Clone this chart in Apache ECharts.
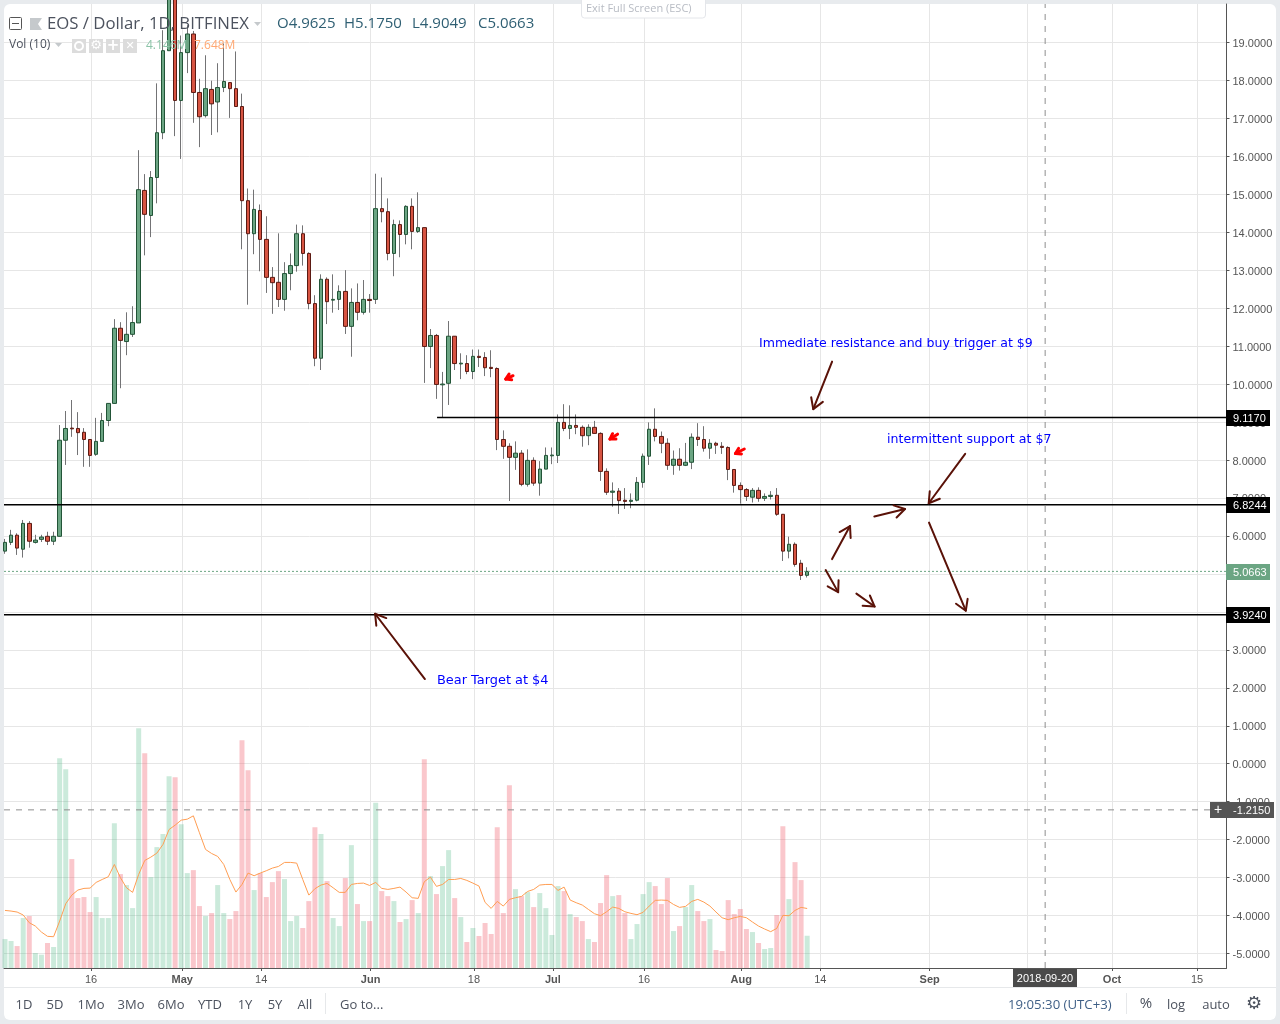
<!DOCTYPE html>
<html>
<head>
<meta charset="utf-8">
<title>EOS / Dollar, 1D, BITFINEX</title>
<script src="https://cdn.jsdelivr.net/npm/echarts@6/dist/echarts.min.js"></script>
<style>
html,body{margin:0;padding:0;background:#e8ebee;width:1280px;height:1024px;overflow:hidden}
#panel{position:absolute;left:4px;top:4px;width:1272px;height:1016px;background:#fff;border-radius:6px}
#chart{position:absolute;left:0;top:0;width:1280px;height:1024px}
</style>
</head>
<body>
<div id="panel"></div>
<div id="chart"></div>
<script>
// Daily candles, first candle = 2 Apr 2018 (x value = days since then)
const opens = [5.60,5.83,6.02,5.65,6.33,5.83,5.91,5.99,5.86,5.99,
8.52,8.84,8.83,8.73,8.54,8.15,8.49,9.04,9.49,11.47,
11.12,11.31,11.61,15.10,14.44,15.44,16.62,18.78,20.50,17.47,
18.73,19.22,17.68,17.07,17.76,17.43,17.81,17.94,17.78,17.31,
14.83,13.96,14.57,13.81,12.81,12.68,12.23,12.91,13.12,13.96,
13.44,12.12,10.68,12.76,12.21,12.23,12.44,11.52,12.15,11.89,
12.23,12.23,14.62,14.54,13.44,14.20,13.94,14.68,14.02,14.12,
10.99,11.28,9.98,10.02,11.26,10.53,10.54,10.33,10.73,10.70,
10.44,10.41,8.54,8.36,8.07,8.18,7.36,7.99,7.39,7.76,
8.11,8.12,8.99,8.83,8.91,8.86,8.64,8.86,8.70,7.70,
7.15,7.18,6.94,6.91,6.94,7.41,8.10,8.81,8.62,8.44,
7.86,8.02,7.86,7.94,8.60,8.54,8.31,8.44,8.36,8.33,
7.75,7.33,7.22,7.02,7.20,6.99,7.04,7.07,6.57,5.60,
5.78,5.28,4.9625];
const closes = [5.83,6.02,5.68,6.33,5.86,5.89,5.97,5.86,5.99,8.52,
8.83,8.82,8.72,8.54,8.12,8.49,9.04,9.49,11.47,11.15,
11.31,11.62,15.12,14.47,15.44,16.62,18.78,20.60,17.47,18.73,
19.22,17.68,17.04,17.78,17.38,17.81,17.97,17.78,17.31,14.83,
13.96,14.60,13.81,12.81,12.67,12.23,12.91,13.12,13.96,13.44,
12.12,10.68,12.76,12.17,12.23,12.44,11.52,12.15,11.89,12.23,
12.20,14.62,14.54,13.44,14.20,13.94,14.68,14.02,14.12,10.99,
11.28,9.99,10.00,11.26,10.54,10.55,10.33,10.73,10.70,10.43,
10.41,8.54,8.36,8.07,8.18,7.36,7.99,7.39,7.76,8.12,
8.13,8.99,8.83,8.91,8.86,8.64,8.86,8.70,7.70,7.15,
7.18,6.93,6.91,6.94,7.41,8.10,8.81,8.62,8.44,7.86,
8.02,7.86,7.94,8.60,8.54,8.31,8.44,8.39,8.33,7.75,
7.33,7.22,7.04,7.20,6.99,7.04,7.07,6.57,5.60,5.78,
5.25,4.96,5.0663];
const highs = [5.92,6.16,6.07,6.42,6.39,6.03,6.03,6.11,6.11,8.92,
9.29,9.58,9.26,8.84,8.54,9.11,9.24,9.49,11.71,11.63,
11.89,12.05,16.16,15.53,15.61,17.92,19.32,22.00,21.50,19.18,
19.45,19.30,18.04,18.66,17.99,18.45,18.97,17.94,18.76,17.65,
15.15,15.12,14.73,14.42,13.08,13.97,13.21,13.44,14.20,14.18,
13.47,12.34,12.89,12.81,12.89,12.60,13.00,12.52,12.65,12.74,
12.37,15.54,15.44,14.89,14.33,14.31,14.71,14.89,15.05,14.12,
11.45,11.32,10.32,11.66,11.26,10.81,10.76,10.91,10.91,10.84,
10.89,10.44,8.78,8.44,8.49,8.26,8.28,8.07,7.97,8.33,
8.33,9.20,9.47,9.44,9.20,8.91,8.94,9.03,8.73,7.78,
7.41,7.26,7.26,7.12,7.55,8.17,8.99,9.36,8.75,8.57,
8.25,8.31,8.45,8.70,8.97,8.89,8.55,8.48,8.47,8.36,
7.75,7.41,7.26,7.26,7.28,7.12,7.18,7.26,6.57,5.98,
5.83,5.37,5.1750];
const lows = [5.53,5.76,5.50,5.43,5.69,5.80,5.84,5.76,5.76,5.99,
7.87,8.61,8.13,7.82,7.82,8.11,8.49,8.89,9.49,9.89,
10.76,11.24,11.61,13.39,13.87,14.76,16.45,18.78,16.53,15.93,
18.19,16.88,16.24,17.02,16.56,16.63,17.69,17.01,17.31,13.55,
12.09,13.42,12.97,12.40,11.85,12.03,11.93,12.47,12.96,13.12,
11.97,10.47,10.37,11.58,11.88,11.95,11.32,10.72,11.68,11.83,
11.88,12.11,14.26,13.26,12.84,13.34,13.68,13.55,13.98,10.03,
10.42,9.61,9.12,9.45,10.37,10.13,10.26,10.13,10.45,10.21,
10.18,8.26,8.03,6.92,7.74,7.31,7.30,7.32,7.06,7.76,
7.89,7.92,8.76,8.55,8.68,8.35,8.39,8.70,7.45,7.08,
6.77,6.58,6.71,6.73,6.91,7.27,7.87,8.49,8.18,7.74,
7.61,7.72,7.84,7.76,8.37,8.22,8.03,8.16,8.16,7.47,
7.14,6.85,6.92,6.88,6.90,6.92,6.96,6.53,5.34,5.41,
5.19,4.84,4.9049];
// Volume, millions
const volumes = [3.72,3.47,2.82,6.42,6.68,1.93,1.71,3.21,2.70,26.96,
25.55,14.00,8.99,9.12,7.19,9.12,6.42,6.42,18.62,12.07,
10.66,7.70,30.82,27.61,11.68,15.54,17.21,24.65,24.52,18.49,
12.20,12.58,7.96,6.68,7.06,10.66,7.06,6.29,7.32,29.28,
25.42,10.02,12.20,9.12,11.04,12.45,11.43,6.03,6.68,5.14,
8.60,18.10,17.21,11.17,6.42,5.39,11.56,15.79,8.22,6.03,
6.03,21.23,9.89,9.24,8.60,5.91,6.29,8.73,7.06,26.84,
11.81,9.50,13.10,15.15,8.99,6.55,3.34,5.14,4.11,5.78,
4.37,18.10,7.06,23.50,10.14,9.24,9.76,7.83,9.63,7.70,
4.24,10.53,9.89,6.93,6.55,6.03,3.72,3.34,8.35,11.94,
9.24,9.37,7.06,3.72,5.65,9.50,11.04,10.53,8.22,11.56,
4.75,5.39,7.83,10.66,7.32,6.03,6.29,2.31,2.18,8.73,
6.93,7.58,5.01,4.62,3.21,2.44,2.57,6.81,18.23,8.86,
13.61,11.30,4.146];
// Vol (10) moving average, millions
const volumeMA = [7.40,7.32,7.19,6.81,5.82,5.39,4.62,4.07,4.02,6.03,
8.26,9.37,10.02,10.23,10.27,11.00,11.38,11.73,13.31,11.60,
10.31,9.72,12.03,13.82,14.25,14.77,15.88,17.80,18.36,19.00,
19.13,19.56,17.38,15.24,14.72,14.34,13.31,11.38,9.76,10.74,
12.20,11.86,12.20,12.50,12.84,13.05,13.57,13.57,13.48,11.38,
9.37,10.19,10.66,10.87,10.31,9.72,9.72,10.74,10.87,10.91,
10.61,11.00,10.23,10.10,10.23,10.40,9.76,9.03,8.95,11.09,
11.68,10.49,10.74,11.38,11.38,11.51,11.26,10.91,10.53,8.43,
7.66,8.56,7.96,8.82,9.03,9.20,9.84,10.10,10.66,10.74,
10.74,9.97,10.40,8.73,8.39,8.09,7.53,6.98,6.72,7.23,
7.83,7.66,7.23,7.02,6.85,7.15,7.96,8.69,8.73,8.69,
8.17,7.79,7.92,8.56,8.82,8.47,7.96,7.19,6.46,6.21,
6.46,6.63,6.46,5.91,5.39,5.01,4.67,5.09,6.76,6.72,
7.40,7.79,7.648];

const priceTicks = [19,18,17,16,15,14,13,12,11,10,9,8,7,6,5,4,3,2,1,0,-1,-2,-3,-4,-5];
// Day ticks sit a fraction of a day right of the candle centres, as in the picture
const timeTickDays = [14.16,29.16,42.16,60.16,77.16,90.16,105.16,121.16,134.16,152.16,168.16,182.16,196.16];
const timeTickLabels = ['16','May','14','Jun','18','Jul','16','Aug','14','Sep','','Oct','15'];
const boldTimeLabels = ['May','Jun','Jul','Aug','Sep','Oct'];

// Horizontal levels drawn on the chart: price, first day
const levelPrices = [9.117,6.8244,3.924];
const levelStartDays = [71.1,-0.16,-0.16];
const lastPrice = 5.0663;
const crosshairPrice = -1.215;
const crosshairDay = 171.16;
const crosshairDate = '2018-09-20';

// Hand-drawn arrows in data space: start day/price, end day/price
const arrowStartDay = [136.1,158.0,152.05,136.1,143.05,135.05,140.1,69.1];
const arrowStartPrice = [10.59,8.16,6.35,5.39,6.51,5.10,4.48,2.23];
const arrowEndDay = [133.0,152.0,158.1,139.05,148.1,137.1,143.1,60.9];
const arrowEndPrice = [9.34,6.86,4.03,6.26,6.71,4.52,4.14,3.95];
const markerStartDay = [83.6,100.8,121.65];
const markerStartPrice = [10.22,8.68,8.29];
const markerEndDay = [82.4,99.55,120.2];
const markerEndPrice = [10.13,8.55,8.17];

const notes = [
  ['Immediate resistance and buy trigger at $9', 759, 343, 12.55],
  ['intermittent support at $7', 887, 439, 12.6],
  ['Bear Target at $4', 437, 680, 12.9]
];

const AXIS_FONT = '"Liberation Sans", Arial, sans-serif';
const UI_FONT = '"Open Sans", sans-serif';
const X_MIN = -0.16, X_MAX = 201, Y_MIN = -5.38, Y_MAX = 20.01;
const UP = '#6ba583', DOWN = '#d75442';
const days = opens.map((_, i) => i);

function arrowShape(api, x1, y1, x2, y2, head, width, color) {
  const a = api.coord([x1, y1]), b = api.coord([x2, y2]);
  const ang = Math.atan2(b[1] - a[1], b[0] - a[0]);
  const spread = 0.55;
  const p1 = [b[0] - head * Math.cos(ang - spread), b[1] - head * Math.sin(ang - spread)];
  const p2 = [b[0] - head * Math.cos(ang + spread), b[1] - head * Math.sin(ang + spread)];
  const st = {stroke: color, lineWidth: width, fill: null, lineCap: 'round', lineJoin: 'round'};
  return {type: 'group', children: [
    {type: 'polyline', shape: {points: [a, b]}, style: st},
    {type: 'polyline', shape: {points: [p1, b, p2]}, style: st}
  ]};
}
function lineShape(a, b, color, width, dash) {
  return {type: 'line', shape: {x1: a[0], y1: a[1], x2: b[0], y2: b[1]},
    style: {stroke: color, lineWidth: width, lineDash: dash || null}};
}
function tagShape(api, price, bg, w) {
  const p = api.coord([X_MAX, price]);
  const y = Math.round(p[1] + 0.5);
  return {type: 'group', children: [
    {type: 'rect', shape: {x: 1226, y: y - 8, width: w, height: 16}, style: {fill: bg}},
    {type: 'text', x: 1233, y: y + 0.5, style: {text: price.toFixed(4), fill: '#fff',
      font: '11px ' + AXIS_FONT, textVerticalAlign: 'middle'}}
  ]};
}

const levelItems = levelPrices.map((_, i) => i);
const tagItems = levelPrices.map((p) => [p, '#000000', 44]).concat([[lastPrice, UP, 44], [crosshairPrice, '#555555', 48]]);

function txt(x, y, s, font, fill, align) {
  return {type: 'text', x: x, y: y + 1, z: 100, silent: true,
    style: {text: s, font: font, fill: fill, align: align || 'left', verticalAlign: 'middle'}};
}
const INK = '#4c525e';
const TB = '13px ' + UI_FONT;
const chrome = [
  {type: 'rect', z: 100, shape: {x: 9.5, y: 17.5, width: 12, height: 12, r: 1}, style: {fill: '#fff', stroke: '#555', lineWidth: 1}},
  {type: 'line', z: 100, shape: {x1: 12, y1: 23.5, x2: 19, y2: 23.5}, style: {stroke: '#555', lineWidth: 1}},
  {type: 'polygon', z: 100, shape: {points: [[30, 18], [42, 18], [38, 24], [42, 30], [30, 30]]}, style: {fill: '#c5c9cc'}},
  txt(47, 23, 'EOS / Dollar, 1D, BITFINEX', '16.75px ' + UI_FONT, INK),
  {type: 'polygon', z: 100, shape: {points: [[254, 22], [261, 22], [257.5, 26]]}, style: {fill: '#c5c9cc'}},
  txt(277, 23, 'O4.9625', '15px ' + UI_FONT, '#2f5f73'),
  txt(344, 23, 'H5.1750', '15px ' + UI_FONT, '#2f5f73'),
  txt(412, 23, 'L4.9049', '15px ' + UI_FONT, '#2f5f73'),
  txt(478, 23, 'C5.0663', '15px ' + UI_FONT, '#2f5f73'),
  {type: 'rect', z: 100, shape: {x: 581.5, y: -3, width: 124, height: 21, r: 3}, style: {fill: '#fff', stroke: '#e4e6ea', lineWidth: 1}},
  txt(586, 8, 'Exit Full Screen (ESC)', '11px ' + UI_FONT, '#b8bcc4'),
  txt(9, 44, 'Vol (10)', '12px ' + UI_FONT, INK),
  {type: 'polygon', z: 100, shape: {points: [[55, 43], [62, 43], [58.5, 47]]}, style: {fill: '#c5c9cc'}},
  {type: 'rect', z: 100, shape: {x: 72, y: 39, width: 14, height: 14}, style: {fill: '#dcdcdc'}},
  {type: 'rect', z: 100, shape: {x: 89, y: 39, width: 14, height: 14}, style: {fill: '#dcdcdc'}},
  {type: 'rect', z: 100, shape: {x: 106, y: 39, width: 14, height: 14}, style: {fill: '#dcdcdc'}},
  {type: 'rect', z: 100, shape: {x: 123, y: 39, width: 14, height: 14}, style: {fill: '#dcdcdc'}},
  {type: 'circle', z: 101, shape: {cx: 79, cy: 46, r: 4}, style: {fill: 'none', stroke: '#fff', lineWidth: 2}},
  txt(96, 45, '\u2699', '13px "DejaVu Sans"', '#fff', 'center'),
  txt(113, 45, '+', 'bold 15px "DejaVu Sans"', '#fff', 'center'),
  txt(130, 45, '\u2715', 'bold 11px "DejaVu Sans"', '#fff', 'center'),
  txt(146, 45, '4.146M', '12px ' + UI_FONT, '#8cc4a8'),
  txt(194, 45, '7.648M', '12px ' + UI_FONT, '#ffa873'),
  {type: 'rect', z: 100, shape: {x: 1210, y: 802, width: 16, height: 16}, style: {fill: '#555555'}},
  txt(1218, 809, '+', '14px ' + AXIS_FONT, '#fff', 'center'),
  {type: 'rect', z: 100, shape: {x: 1013, y: 969, width: 64, height: 18}, style: {fill: '#4a4a4a'}},
  txt(1045, 977.5, crosshairDate, '11px ' + AXIS_FONT, '#fff', 'center'),
  {type: 'line', z: 1, shape: {x1: 4, y1: 987.5, x2: 1276, y2: 987.5}, style: {stroke: '#e6e8ea', lineWidth: 1}},
  txt(24, 1004, '1D', TB, INK, 'center'),
  txt(55, 1004, '5D', TB, INK, 'center'),
  txt(91, 1004, '1Mo', TB, INK, 'center'),
  txt(131, 1004, '3Mo', TB, INK, 'center'),
  txt(171, 1004, '6Mo', TB, INK, 'center'),
  txt(210, 1004, 'YTD', TB, INK, 'center'),
  txt(245, 1004, '1Y', TB, INK, 'center'),
  txt(275, 1004, '5Y', TB, INK, 'center'),
  txt(305, 1004, 'All', TB, INK, 'center'),
  {type: 'line', z: 100, shape: {x1: 325.5, y1: 993, x2: 325.5, y2: 1014}, style: {stroke: '#e6e8ea', lineWidth: 1}},
  txt(340, 1004, 'Go to...', TB, INK),
  txt(1008, 1004, '19:05:30 (UTC+3)', '13.2px ' + UI_FONT, '#3f5f86'),
  {type: 'line', z: 100, shape: {x1: 1126.5, y1: 993, x2: 1126.5, y2: 1014}, style: {stroke: '#e6e8ea', lineWidth: 1}},
  txt(1146, 1003, '%', '15px ' + UI_FONT, INK, 'center'),
  txt(1176, 1004, 'log', TB, INK, 'center'),
  txt(1216, 1004, 'auto', TB, INK, 'center'),
  txt(1254, 1003, '\u2699', '18px "DejaVu Sans"', INK, 'center')
].concat(notes.map((n) => txt(n[1], n[2], n[0], n[3] + 'px "DejaVu Sans"', '#0000ff')));

const chart = echarts.init(document.getElementById('chart'), null, {renderer: 'canvas'});
chart.setOption({
  animation: false,
  grid: {left: 4, right: 53.5, top: 4, bottom: 56, containLabel: false},
  xAxis: {
    type: 'value', min: X_MIN, max: X_MAX,
    axisLine: {onZero: false, lineStyle: {color: '#555555', width: 1}},
    axisTick: {show: true, length: 3, lineStyle: {color: '#555555'}, customValues: timeTickDays},
    splitLine: {show: true, lineStyle: {color: '#e6e6e6', width: 1}},
    axisLabel: {
      customValues: timeTickDays, margin: 6, color: '#555555', fontSize: 11, fontFamily: 'Liberation Sans',
      formatter: function (v) {
        const s = timeTickLabels[timeTickDays.indexOf(v)] || '';
        return boldTimeLabels.indexOf(s) >= 0 ? '{b|' + s + '}' : s;
      },
      rich: {b: {fontWeight: 'bold', color: '#555555', fontSize: 11, fontFamily: 'Liberation Sans'}}
    }
  },
  yAxis: [{
    type: 'value', min: Y_MIN, max: Y_MAX, position: 'right',
    axisLine: {show: true, onZero: false, lineStyle: {color: '#555555', width: 1}},
    axisTick: {show: true, length: 3, lineStyle: {color: '#555555'}, customValues: priceTicks},
    splitLine: {show: true, lineStyle: {color: '#e6e6e6', width: 1}},
    axisLabel: {customValues: priceTicks, margin: 6, color: '#555555', fontSize: 11, fontFamily: 'Liberation Sans',
      formatter: (v) => '{p|' + v.toFixed(4) + '}',
      rich: {p: {color: '#555555', fontSize: 11, fontFamily: 'Liberation Sans', padding: [3, 0, 0, 0]}}}
  }, {
    type: 'value', min: 0, max: 123.9, show: false, splitLine: {show: false}
  }],
  series: [
    {
      name: 'Volume', type: 'bar', yAxisIndex: 1, barWidth: 5, z: 1, silent: true,
      data: days.map((d, i) => ({value: [d, volumes[i]],
        itemStyle: {color: closes[i] >= opens[i] ? 'rgba(83,185,135,0.30)' : 'rgba(242,100,115,0.36)'}}))
    },
    {
      name: 'Vol MA 10', type: 'line', yAxisIndex: 1, z: 3, silent: true, symbol: 'none',
      lineStyle: {color: '#ff9d52', width: 1},
      data: days.map((d, i) => [d, volumeMA[i]])
    },
    {
      name: 'Wicks', type: 'candlestick', barWidth: 1, z: 4, silent: true,
      itemStyle: {color: '#737375', color0: '#737375', borderColor: '#737375', borderColor0: '#737375', borderWidth: 1},
      data: days.map((d, i) => [d, opens[i], closes[i], lows[i], highs[i]])
    },
    {
      name: 'EOS / Dollar', type: 'candlestick', barWidth: 4, z: 5, silent: true,
      itemStyle: {color: UP, color0: DOWN, borderColor: '#225437', borderColor0: '#5b1a13', borderWidth: 1},
      data: days.map((d, i) => [d, opens[i], closes[i], Math.min(opens[i], closes[i]), Math.max(opens[i], closes[i])])
    },
    {
      name: 'Guides', type: 'custom', z: 6, silent: true, clip: false,
      data: [0],
      renderItem: function (params, api) {
        return {type: 'group', children: [
          lineShape(api.coord([X_MIN, lastPrice]), api.coord([X_MAX, lastPrice]), '#6ba583', 1, [2, 2]),
          lineShape(api.coord([X_MIN, crosshairPrice]), api.coord([X_MAX, crosshairPrice]), '#8e8e8e', 1, [6, 6]),
          lineShape(api.coord([crosshairDay, Y_MIN]), api.coord([crosshairDay, Y_MAX]), '#8e8e8e', 1, [6, 6])
        ]};
      }
    },
    {
      name: 'Levels', type: 'custom', z: 7, silent: true, clip: false,
      data: levelItems,
      renderItem: function (params, api) {
        const i = params.dataIndex;
        return lineShape(api.coord([levelStartDays[i], levelPrices[i]]), api.coord([X_MAX, levelPrices[i]]), '#000000', 1.5);
      }
    },
    {
      name: 'Arrows', type: 'custom', z: 8, silent: true, clip: false,
      data: arrowStartDay.map((_, i) => i),
      renderItem: function (params, api) {
        const i = params.dataIndex;
        return arrowShape(api, arrowStartDay[i], arrowStartPrice[i], arrowEndDay[i], arrowEndPrice[i], 12, 2, '#5a1208');
      }
    },
    {
      name: 'Markers', type: 'custom', z: 8, silent: true, clip: false,
      data: markerStartDay.map((_, i) => i),
      renderItem: function (params, api) {
        const i = params.dataIndex;
        return arrowShape(api, markerStartDay[i], markerStartPrice[i], markerEndDay[i], markerEndPrice[i], 6, 3, '#ff0000');
      }
    },
    {
      name: 'Price tags', type: 'custom', z: 9, silent: true, clip: false,
      data: tagItems.map((_, i) => i),
      renderItem: function (params, api) {
        const t = tagItems[params.dataIndex];
        return tagShape(api, t[0], t[1], t[2]);
      }
    }
  ],
  graphic: chrome
});
</script>
</body>
</html>
